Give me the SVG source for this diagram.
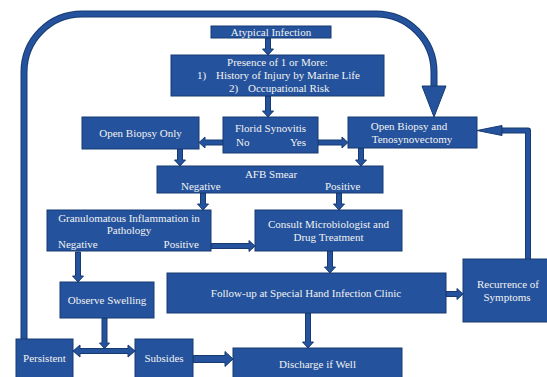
<svg xmlns="http://www.w3.org/2000/svg" width="547" height="377" viewBox="0 0 547 377">
<style>
.box{fill:#24529c;stroke:#173b70;stroke-width:1}
.t{font-family:"Liberation Serif","Times New Roman",serif;font-size:11px;fill:#f2f2f2}
.c{text-anchor:middle}
.ar{fill:#24529c;stroke:#173b70;stroke-width:1;stroke-linejoin:miter}
.ld{fill:none;stroke:#173b70;stroke-linejoin:round}
.lf{fill:none;stroke:#24529c;stroke-linejoin:round}
</style>
<rect width="547" height="377" fill="#ffffff"/>
<g id="connectors">
  <path class="ld" stroke-width="7" d="M24,339 V72 A58,58 0 0 1 82,14 H376 A58,58 0 0 1 434,72 V88"/>
  <path class="lf" stroke-width="5" d="M24,339 V72 A58,58 0 0 1 82,14 H376 A58,58 0 0 1 434,72 V88"/>
  <polygon class="ar" points="422,86 446,86 434,117"/>
  <path class="ld" stroke-width="6" d="M528,259 V130.5 H500"/>
  <path class="lf" stroke-width="4" d="M528,259 V130.5 H500"/>
  <polygon class="ar" points="477,130.5 502,125.5 502,135.5"/>
  <polygon class="ar" points="265.5,38 270.5,38 270.5,49 273.5,49 268,55 262.5,49 265.5,49"/>
  <polygon class="ar" points="265.5,96 270.5,96 270.5,111 273.5,111 268,117 262.5,111 265.5,111"/>
  <polygon class="ar" points="223,140 205,140 205,137 199,142.5 205,148 205,145 223,145"/>
  <polygon class="ar" points="318,140 342,140 342,137 348,142.5 342,148 342,145 318,145"/>
  <polygon class="ar" points="177.5,149 182.5,149 182.5,160 185.5,160 180,166 174.5,160 177.5,160"/>
  <polygon class="ar" points="358.5,148 363.5,148 363.5,160 366.5,160 361,166 355.5,160 358.5,160"/>
  <polygon class="ar" points="200.5,193 205.5,193 205.5,204 208.5,204 203,210 197.5,204 200.5,204"/>
  <polygon class="ar" points="336.5,193 341.5,193 341.5,204 344.5,204 339,210 333.5,204 336.5,204"/>
  <polygon class="ar" points="211,243.5 249,243.5 249,240.5 255,246 249,251.5 249,248.5 211,248.5"/>
  <polygon class="ar" points="75.5,252 80.5,252 80.5,276 83.5,276 78,282 72.5,276 75.5,276"/>
  <polygon class="ar" points="327.5,251 332.5,251 332.5,267 335.5,267 330,273 324.5,267 327.5,267"/>
  <polygon class="ar" points="446,291.5 457,291.5 457,288.5 463,294 457,299.5 457,296.5 446,296.5"/>
  <polygon class="ar" points="305.5,313 310.5,313 310.5,342 313.5,342 308,348 302.5,342 305.5,342"/>
  <polygon class="ar" points="193,355.5 225,355.5 225,351.5 233,359 225,366.5 225,362.5 193,362.5"/>
  <polygon class="ar" points="73,351 80,345 80,348.5 128,348.5 128,345 135,351 128,357 128,353.5 80,353.5 80,357"/>
  <polygon class="ar" points="102,318 107,318 107,343 109.5,343 104.5,348.5 99.5,343 102,343"/>
</g>
<g id="atypical">
  <rect class="box" x="211" y="26" width="120" height="12"/>
  <text class="t c" x="271" y="35.5">Atypical Infection</text>
</g>
<g id="presence">
  <rect class="box" x="171" y="55" width="213" height="41"/>
  <text class="t c" x="277.5" y="66">Presence of 1 or More:</text>
  <text class="t" x="197" y="79">1)</text>
  <text class="t" x="216" y="79">History of Injury by Marine Life</text>
  <text class="t" x="229" y="92">2)</text>
  <text class="t" x="248" y="92">Occupational Risk</text>
</g>
<g id="florid">
  <rect class="box" x="223" y="117" width="95" height="36"/>
  <text class="t c" x="270.5" y="132">Florid Synovitis</text>
  <text class="t" x="236" y="146">No</text>
  <text class="t" x="306" y="146" text-anchor="end">Yes</text>
</g>
<g id="open-biopsy-only">
  <rect class="box" x="82" y="117" width="117" height="32"/>
  <text class="t c" x="140.5" y="137">Open Biopsy Only</text>
</g>
<g id="open-biopsy-teno">
  <rect class="box" x="348" y="117" width="129" height="31"/>
  <text class="t c" x="409" y="129.5">Open Biopsy and</text>
  <text class="t c" x="412" y="142.5">Tenosynovectomy</text>
</g>
<g id="afb">
  <rect class="box" x="157" y="166" width="226" height="27"/>
  <text class="t c" x="271" y="177.5">AFB Smear</text>
  <text class="t" x="181" y="190">Negative</text>
  <text class="t" x="325" y="190">Positive</text>
</g>
<g id="granulomatous">
  <rect class="box" x="47" y="210" width="164" height="41"/>
  <text class="t c" x="129" y="221.5">Granulomatous Inflammation in</text>
  <text class="t c" x="129" y="234">Pathology</text>
  <text class="t" x="58" y="247.5">Negative</text>
  <text class="t" x="199" y="247.5" text-anchor="end">Positive</text>
</g>
<g id="consult">
  <rect class="box" x="255" y="210" width="147" height="41"/>
  <text class="t c" x="328.5" y="228">Consult Microbiologist and</text>
  <text class="t c" x="328.5" y="241">Drug Treatment</text>
</g>
<g id="followup">
  <rect class="box" x="167" y="273" width="279" height="40"/>
  <text class="t c" x="306" y="297">Follow-up at Special Hand Infection Clinic</text>
</g>
<g id="recurrence">
  <rect class="box" x="463" y="259" width="90" height="63"/>
  <text class="t c" x="508" y="288">Recurrence of</text>
  <text class="t c" x="507" y="301">Symptoms</text>
</g>
<g id="observe">
  <rect class="box" x="60" y="282" width="94" height="36"/>
  <text class="t c" x="107" y="304">Observe Swelling</text>
</g>
<g id="persistent">
  <rect class="box" x="16" y="339" width="57" height="45"/>
  <text class="t c" x="44.5" y="362">Persistent</text>
</g>
<g id="subsides">
  <rect class="box" x="135" y="339" width="58" height="45"/>
  <text class="t c" x="164" y="362">Subsides</text>
</g>
<g id="discharge">
  <rect class="box" x="233" y="348" width="169" height="36"/>
  <text class="t c" x="317.5" y="368">Discharge if Well</text>
</g>
</svg>
